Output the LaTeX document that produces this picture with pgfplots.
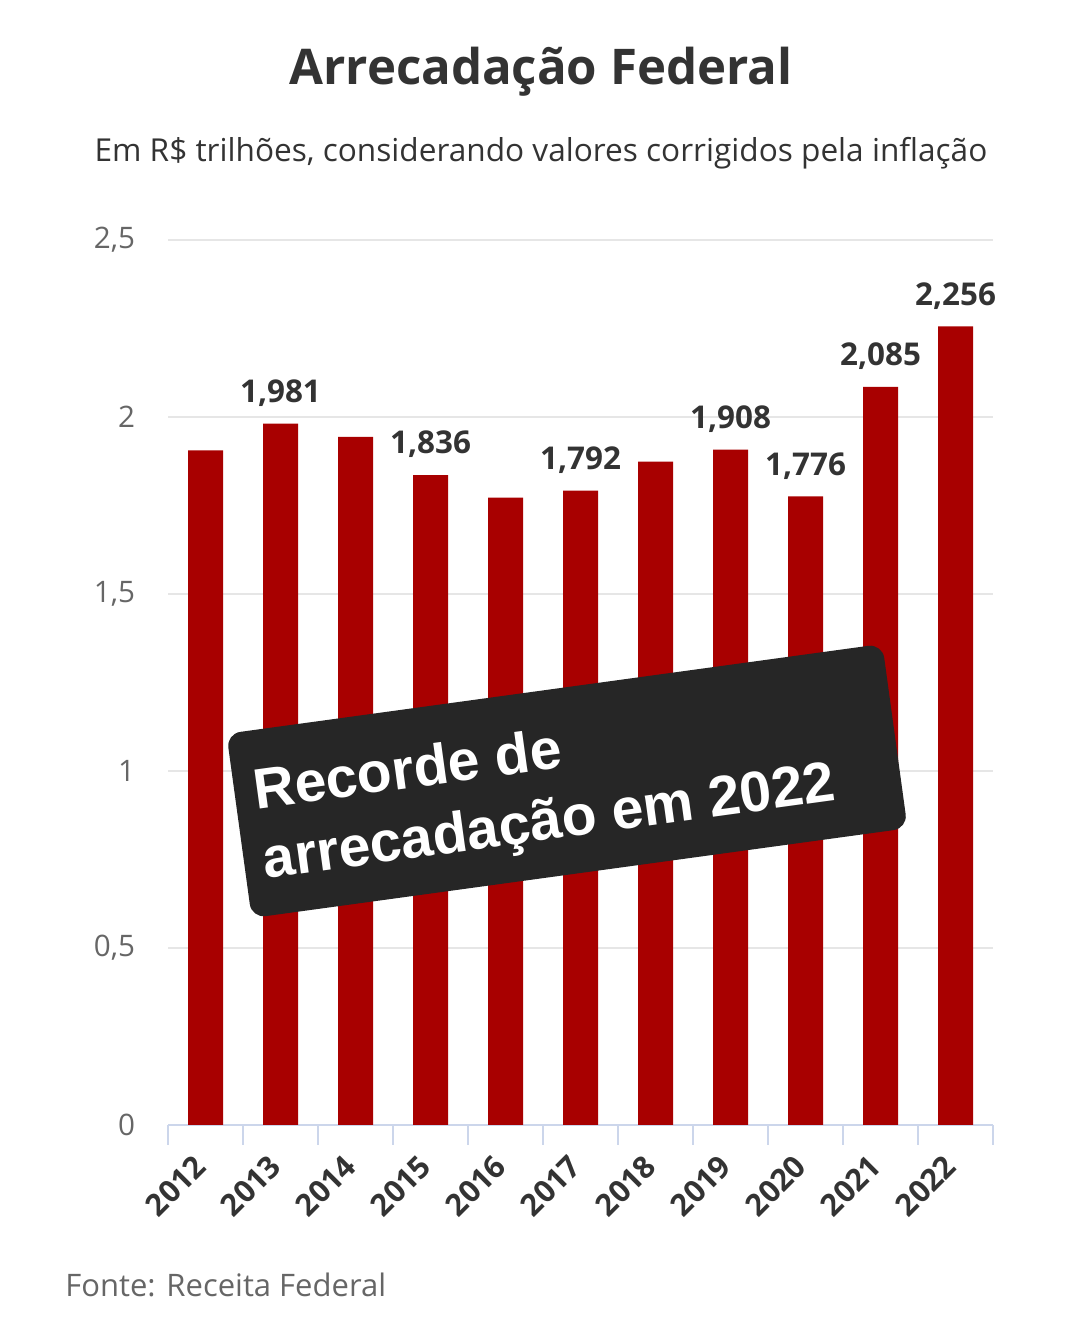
\documentclass[border=0pt]{standalone}
\usepackage{fontspec}
\setmainfont{Open Sans}
\newfontfamily\stickerfont{Liberation Sans}
\usepackage{pgfplots}
\pgfplotsset{compat=1.18}
\definecolor{barred}{RGB}{168,0,0}
\definecolor{txt}{RGB}{51,51,51}
\definecolor{gtxt}{RGB}{102,102,102}
\definecolor{gridc}{RGB}{230,230,230}
\definecolor{axc}{RGB}{204,214,235}
\definecolor{sticker}{RGB}{38,38,38}
\begin{document}
\begin{tikzpicture}
\path[use as bounding box] (0,0) rectangle (540pt,662.5pt);
\begin{axis}[
  at={(84pt,100pt)}, anchor=south west,
  width=412.5pt, height=442.5pt, scale only axis,
  xmin=-0.5, xmax=10.5, ymin=0, ymax=2.5,
  axis x line*=bottom, axis y line*=left,
  x axis line style={draw=axc, line width=1.2pt, -},
  y axis line style={draw=none},
  tick align=outside,
  xtick={0,...,10},
  xticklabels={2012,2013,2014,2015,2016,2017,2018,2019,2020,2021,2022},
  major x tick style={draw=none},
  minor xtick={-0.5,0.5,...,10.5},
  minor x tick style={draw=axc, line width=1.2pt},
  minor tick length=10pt,
  major tick length=0pt,
  xticklabel style={xshift=0pt, yshift=-15.5pt, rotate=45, anchor=east, font=\fontsize{15.3}{17}\selectfont\bfseries, text=txt},
  ytick={0,0.5,...,2.5},
  y tick style={draw=none},
  yticklabel style={font=\fontsize{14.8}{17}\selectfont, text=gtxt, anchor=east, xshift=-13pt},
  ymajorgrids,
  grid style={draw=gridc, line width=1pt},
  /pgf/number format/.cd, use comma, 1000 sep={}, assume math mode=true,
]
\addplot[ybar, bar width=17.5pt, fill=barred, draw=none] coordinates {
  (0,1.906) (1,1.981) (2,1.944) (3,1.836) (4,1.772) (5,1.792)
  (6,1.874) (7,1.908) (8,1.776) (9,2.085) (10,2.256)
};
\addplot[draw=none, mark=none, nodes near coords, point meta=explicit symbolic,
  nodes near coords style={anchor=south, yshift=5pt, font=\fontsize{15.7}{18}\selectfont\bfseries, text=txt}]
  table[x=x, y=y, meta=lab] {
x y lab
1 1.981 1,981
3 1.836 1,836
5 1.792 1,792
7 1.908 1,908
8 1.776 1,776
9 2.085 2,085
10 2.256 2,256
};
\end{axis}
\node[font=\fontsize{24.6}{29}\selectfont\bfseries, text=txt] at (270.5pt,626.5pt) {Arrecadação Federal};
\node[font=\fontsize{15.8}{19}\selectfont, text=txt] at (270.5pt,586pt) {Em R\$ trilhões, considerando valores corrigidos pela inflação};
\node[anchor=west, inner sep=0pt, font=\fontsize{15.5}{18}\selectfont, text=gtxt] at (32.5pt,20pt) {Fonte: Receita Federal};
\begin{scope}[shift={(283.5pt,272pt)}, rotate=7.8]
\fill[sticker, rounded corners=7pt] (-165.5pt,-46.5pt) rectangle (165.5pt,46.5pt);
\node[anchor=north west, inner sep=0pt, text=white, align=left, rotate=7.8,
  font=\stickerfont\bfseries\fontsize{28.5}{35}\selectfont] at (-156pt,28pt) {Recorde de\\arrecadação em 2022};
\end{scope}
\end{tikzpicture}
\end{document}
